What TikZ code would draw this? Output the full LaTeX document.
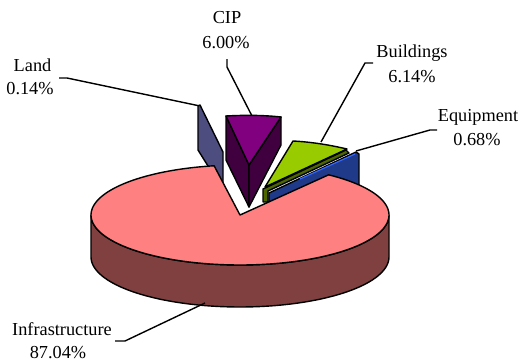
\documentclass[tikz,border=0pt]{standalone}
\usepackage{fontspec}
\setmainfont{Liberation Serif}
\definecolor{infTop}{HTML}{FF8080}
\definecolor{infSide}{HTML}{804040}
\definecolor{landCol}{HTML}{4D4D80}
\definecolor{cipTop}{HTML}{800080}
\definecolor{cipSide}{HTML}{400040}
\definecolor{bldTop}{HTML}{99CC00}
\definecolor{bldSide}{HTML}{4D6600}
\definecolor{eqSide}{HTML}{1F3A88}
\definecolor{eqTop}{HTML}{3366FF}
\begin{document}
\begin{tikzpicture}[x=1pt,y=-1pt,
  lbl/.style={anchor=base,inner sep=0pt,font=\fontsize{18.3}{21}\selectfont},
  face/.style={draw=black,line width=1.4pt,line join=round},
  leader/.style={draw=black,line width=1.4pt,line join=round}]
\useasboundingbox (0,0) rectangle (523,362);
\fill[white] (0,0) rectangle (523,362);

% labels
\node[lbl] (land1) at (32.5,71) {Land};
\node[lbl] (land2) at (30,94) {0.14\%};
\node[lbl] (cip1) at (227,23) {CIP};
\node[lbl] (cip2) at (226,48) {6.00\%};
\node[lbl] (bld1) at (412,57) {Buildings};
\node[lbl] (bld2) at (412,82) {6.14\%};
\node[lbl] (eq1) at (478,121) {Equipment};
\node[lbl] (eq2) at (477,145) {0.68\%};
\node[lbl] (inf1) at (62,335) {Infrastructure};
\node[lbl] (inf2) at (58,358) {87.04\%};

% leader lines
\coordinate (landA) at (59,78);
\coordinate (landB) at (67,78);
\coordinate (landC) at (200,106);
\draw[leader] (landA) -- (landB) -- (landC);
\coordinate (cipA) at (227,59);
\coordinate (cipB) at (227,67);
\coordinate (cipC) at (252,116);
\draw[leader] (cipA) -- (cipB) -- (cipC);
\coordinate (bldA) at (373,63);
\coordinate (bldB) at (365,63);
\coordinate (bldC) at (321,142);
\draw[leader] (bldA) -- (bldB) -- (bldC);
\coordinate (eqA) at (437,130);
\coordinate (eqB) at (430,130);
\coordinate (eqC) at (356,151);
\draw[leader] (eqA) -- (eqB) -- (eqC);

% Land slab
\filldraw[face,fill=landCol] (200,105) -- (223,152) -- (223,190) -- (198,150) -- (198,106) -- cycle;

% CIP prism
\filldraw[face,fill=cipSide] (226,116) -- (249,165) -- (249,207) -- (226,160) -- cycle;
\filldraw[face,fill=cipSide] (281,117) -- (249,165) -- (249,207) -- (281,145) -- cycle;
\filldraw[face,fill=cipTop] (226,116) .. controls (244,115) and (263,115) .. (281,117) -- (249,165) -- cycle;

% Equipment
\filldraw[face,fill=eqSide] (269,193) -- (356,152) -- (359,154) -- (359,186) -- (269,206) -- cycle;
\draw[eqTop,line width=1.2pt] (300,179) -- (355,154);

% Buildings
\filldraw[face,fill=bldSide] (263,189) -- (346,150) -- (349,153) -- (268,191) -- (268,202) -- (263,202) -- cycle;
\filldraw[face,fill=bldTop] (293,141) .. controls (312,142) and (330,145) .. (347,149) -- (265,187) -- cycle;

% Infrastructure side and top
\filldraw[face,fill=infSide]
  plot[domain=180:360,samples=60,variable=\t] ({240+149*cos(\t)},{215-50*sin(\t)})
  -- (389,257)
  -- plot[domain=360:180,samples=60,variable=\t] ({240+149*cos(\t)},{257-50*sin(\t)})
  -- cycle;
\filldraw[face,fill=infTop] (240,215)
  -- plot[domain=100:413.5,samples=150,variable=\t] ({240+149*cos(\t)},{215-50*sin(\t)})
  -- cycle;

% Infrastructure leader
\coordinate (infA) at (115,341);
\coordinate (infB) at (125,341);
\coordinate (infC) at (205,303);
\draw[leader] (infA) -- (infB) -- (infC);
\end{tikzpicture}
\end{document}
